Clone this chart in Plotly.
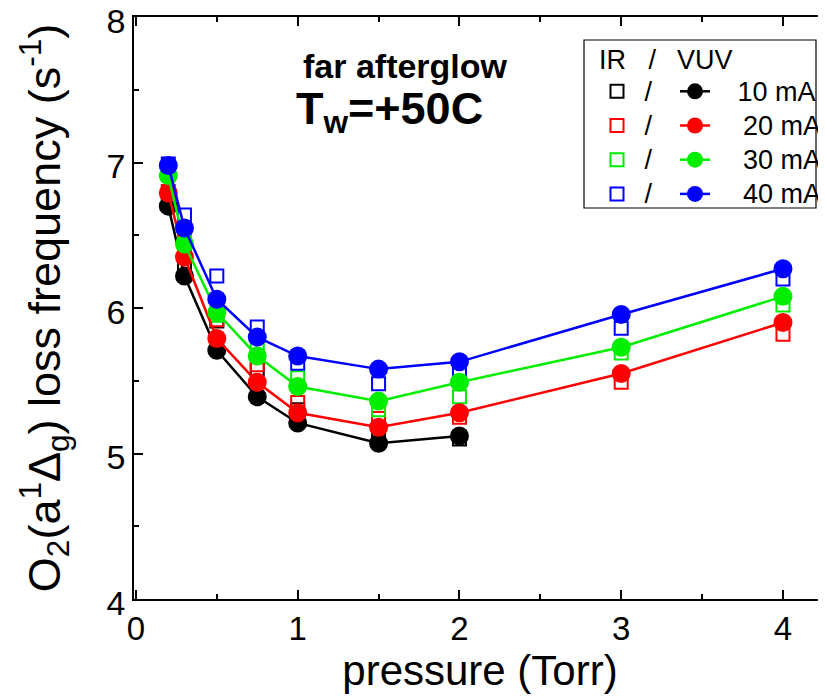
import plotly.graph_objects as go

pressure = [0.2, 0.3, 0.5, 0.75, 1.0, 1.5, 2.0, 3.0, 4.0]
currents = ["10 mA", "20 mA", "30 mA", "40 mA"]
colors = ["#000000", "#ff0000", "#00ee00", "#0000ff"]

vuv_10 = [6.70, 6.22, 5.71, 5.39, 5.21, 5.07, 5.12]
vuv_20 = [6.79, 6.35, 5.79, 5.49, 5.28, 5.18, 5.28, 5.55, 5.90]
vuv_30 = [6.91, 6.44, 5.97, 5.67, 5.46, 5.36, 5.49, 5.73, 6.08]
vuv_40 = [6.98, 6.55, 6.06, 5.80, 5.67, 5.58, 5.63, 5.955, 6.27]

ir_10 = [6.72, 6.30, 5.91, 5.58, 5.30, 5.12, 5.10]
ir_20 = [6.80, 6.36, 5.92, 5.61, 5.35, 5.24, 5.25, 5.49, 5.82]
ir_30 = [6.92, 6.47, 5.95, 5.76, 5.52, 5.30, 5.39, 5.69, 6.02]
ir_40 = [6.99, 6.64, 6.22, 5.87, 5.62, 5.48, 5.57, 5.86, 6.20]

vuv = [vuv_10, vuv_20, vuv_30, vuv_40]
ir = [ir_10, ir_20, ir_30, ir_40]

FONT = "Arial, Liberation Sans, sans-serif"
W, H = 826, 700
OFF = 8  # page body margin
ML, MR, MT, MB = 126, 8, 9, 109
PW, PH = W - ML - MR, H - MT - MB

def px(sx):
    return (sx - OFF - ML) / PW

def py(sy):
    return (H - MB - (sy - OFF)) / PH

NB = "\u00a0"
leg_names = [NB * 3 + currents[0]] + [NB * 3 + "\u2009" + c for c in currents[1:]]

fig = go.Figure()

for i in range(4):
    n = len(ir[i])
    fig.add_trace(go.Scatter(
        x=pressure[:n], y=ir[i], mode="markers",
        name="<span style='font-size:27px'>" + NB + "/</span>",
        marker=dict(symbol="square-open", size=13, color=colors[i],
                    line=dict(width=2, color=colors[i])),
        legend="legend", showlegend=True,
    ))

for i in range(4):
    n = len(vuv[i])
    fig.add_trace(go.Scatter(
        x=pressure[:n], y=vuv[i], mode="lines+markers",
        name="<span style='font-size:27px'>" + leg_names[i] + "</span>",
        line=dict(color=colors[i], width=2.5),
        marker=dict(symbol="circle", size=19, color=colors[i]),
        legend="legend2", showlegend=True,
    ))

fig.update_layout(
    width=W, height=H,
    margin=dict(l=ML, r=MR, t=MT, b=MB),
    plot_bgcolor="white", paper_bgcolor="white",
    font=dict(family=FONT, color="black", size=24),
    showlegend=True,
    legend=dict(
        x=px(597), y=py(38), xanchor="left", yanchor="top",
        bgcolor="rgba(0,0,0,0)", borderwidth=0,
        font=dict(size=24, family=FONT),
        title=dict(text="<span style='font-size:27px'>IR" + NB * 3 + "/</span>",
                   font=dict(size=24, family=FONT)),
        itemsizing="trace",
    ),
    legend2=dict(
        x=px(675), y=py(38), xanchor="left", yanchor="top",
        bgcolor="rgba(0,0,0,0)", borderwidth=0,
        font=dict(size=24, family=FONT),
        title=dict(text="<span style='font-size:27px'>VUV</span>",
                   font=dict(size=24, family=FONT)),
        itemsizing="trace",
    ),
    xaxis=dict(
        range=[-0.012, 4.266], tickvals=[0, 1, 2, 3, 4], ticks="inside", ticklen=9,
        tickwidth=1.5, showline=True, linecolor="black", linewidth=1.5,
        mirror="ticks", showgrid=False, zeroline=False, automargin=False,
        ticklabeloverflow="allow",
        minor=dict(dtick=0.5, ticks="inside", ticklen=5, tickwidth=1.5, tickcolor="black"),
        tickfont=dict(size=33), tickcolor="black",
        title=dict(text="pressure (Torr)", font=dict(size=42), standoff=0),
    ),
    yaxis=dict(
        range=[4, 8], tickvals=[4, 5, 6, 7, 8], ticks="inside", ticklen=9,
        tickwidth=1.5, showline=True, linecolor="black", linewidth=1.5,
        showgrid=False, zeroline=False, automargin=False,
        ticklabeloverflow="allow", ticklabelshift=4,
        minor=dict(dtick=0.5, ticks="inside", ticklen=5, tickwidth=1.5, tickcolor="black"),
        tickfont=dict(size=34), tickcolor="black",
        title=dict(text="O<sub>2</sub>(a<sup>1</sup>\u0394<sub>g</sub>) loss frequency (s<sup>-1</sup>)",
                   font=dict(size=45), standoff=32),
    ),
    shapes=[dict(type="rect", xref="paper", yref="paper",
                 x0=px(584), x1=px(816), y0=py(208), y1=py(40),
                 line=dict(color="black", width=1.2), fillcolor="rgba(0,0,0,0)")],
    annotations=[
        dict(text="<b>far afterglow</b>", x=px(405), y=py(66), xref="paper", yref="paper",
             showarrow=False, font=dict(size=34), xanchor="center", yanchor="middle"),
        dict(text="<b>T<sub>w</sub>=+50C</b>", x=px(294), y=py(112), xref="paper", yref="paper",
             showarrow=False, font=dict(size=45), xanchor="left", yanchor="middle"),
    ],
)

fig.write_html("out.html")
